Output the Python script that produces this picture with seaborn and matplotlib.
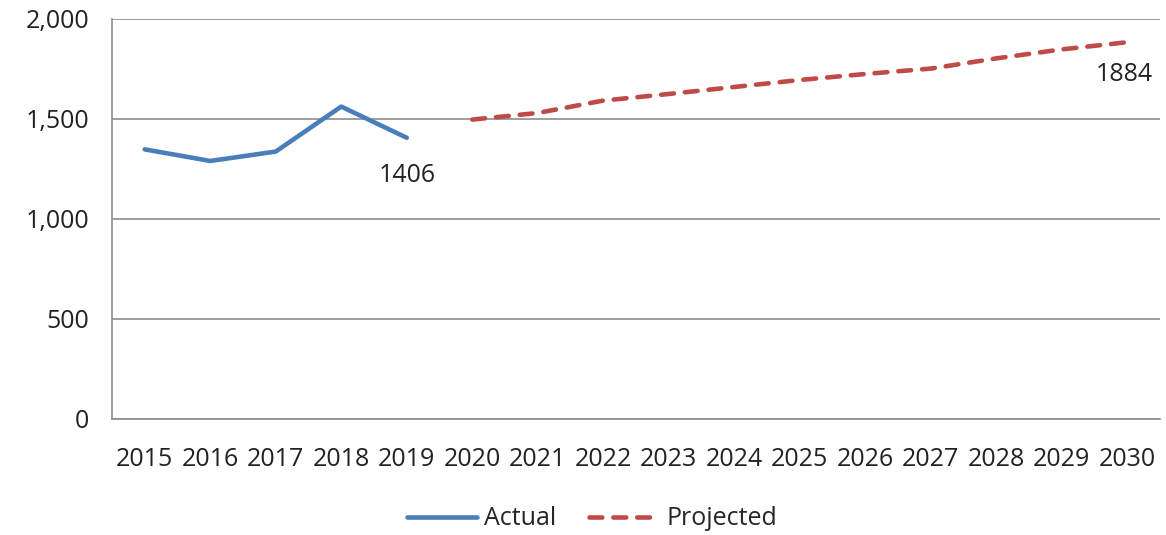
import matplotlib
matplotlib.use("Agg")
import matplotlib.pyplot as plt
import seaborn as sns
import pandas as pd
from matplotlib.ticker import FuncFormatter, FixedLocator

years = [str(y) for y in range(2015, 2031)]
actual_years = ["2015", "2016", "2017", "2018", "2019"]
actual_vals = [1348, 1290, 1337, 1562, 1406]
proj_years = ["2020", "2021", "2022", "2023", "2024", "2025", "2026", "2027", "2028", "2029", "2030"]
proj_vals = [1497, 1530, 1592, 1625, 1660, 1695, 1725, 1752, 1803, 1848, 1884]
y_ticks = [0, 500, 1000, 1500, 2000]

sns.set_style("white")
plt.rcParams["font.family"] = ["Open Sans", "DejaVu Sans"]

BLUE = "#4A7EBB"
RED = "#BE4B48"
GREY = "#8C8C8C"
TXT = "#222222"
FS = 18

fig = plt.figure(figsize=(11.66, 5.35), dpi=100)
ax = fig.add_axes([0.096, 0.217, 0.899, 0.7475])

idx = {y: i for i, y in enumerate(years)}
df_a = pd.DataFrame({"x": [idx[y] for y in actual_years], "v": actual_vals})
df_p = pd.DataFrame({"x": [idx[y] for y in proj_years], "v": proj_vals})

sns.lineplot(data=df_a, x="x", y="v", ax=ax, color=BLUE, linewidth=3.3,
             label="Actual", solid_capstyle="round", solid_joinstyle="round")
sns.lineplot(data=df_p, x="x", y="v", ax=ax, color=RED, linewidth=3.3,
             label="Projected", linestyle=(0, (2.8, 2.4)), dash_capstyle="round")

ax.set_xlim(-0.5, len(years) - 0.5)
ax.set_ylim(0, 2000)
ax.set_yticks(y_ticks)
ax.yaxis.set_major_formatter(FuncFormatter(lambda v, p: f"{int(v):,}"))
ax.grid(axis="y", color=GREY, linewidth=1.2)
ax.set_axisbelow(True)

ax.xaxis.set_major_locator(FixedLocator([i - 0.5 for i in range(len(years) + 1)]))
ax.xaxis.set_major_formatter(FuncFormatter(lambda v, p: ""))
ax.xaxis.set_minor_locator(FixedLocator(list(range(len(years)))))
ax.set_xticklabels(years, minor=True)
ax.tick_params(axis="x", which="major", length=7.5, width=1.2, color=GREY, direction="out")
ax.tick_params(axis="x", which="minor", length=0, pad=20.5, labelsize=FS, labelcolor=TXT)
ax.tick_params(axis="y", length=7.5, width=1.2, color=GREY, direction="out", pad=9,
               labelsize=FS, labelcolor=TXT)

for s in ["top", "right"]:
    ax.spines[s].set_visible(False)
for s in ["left", "bottom"]:
    ax.spines[s].set_color(GREY)
    ax.spines[s].set_linewidth(1.2)

ax.set_xlabel("")
ax.set_ylabel("")

ax.annotate(str(actual_vals[-1]), (idx[actual_years[-1]], actual_vals[-1]),
            xytext=(0, -27), textcoords="offset points", ha="center", va="center",
            fontsize=FS, color=TXT)
ax.annotate(str(proj_vals[-1]), (idx[proj_years[-1]], proj_vals[-1]),
            xytext=(-2, -23), textcoords="offset points", ha="center", va="center",
            fontsize=FS, color=TXT)

ax.legend(loc="center", bbox_to_anchor=(0.458, -0.25),
          ncol=2, frameon=False, fontsize=FS, handlelength=2.8, handletextpad=0.3,
          columnspacing=1.3, borderaxespad=0)

fig.savefig("out.png", dpi=100, facecolor="white")
